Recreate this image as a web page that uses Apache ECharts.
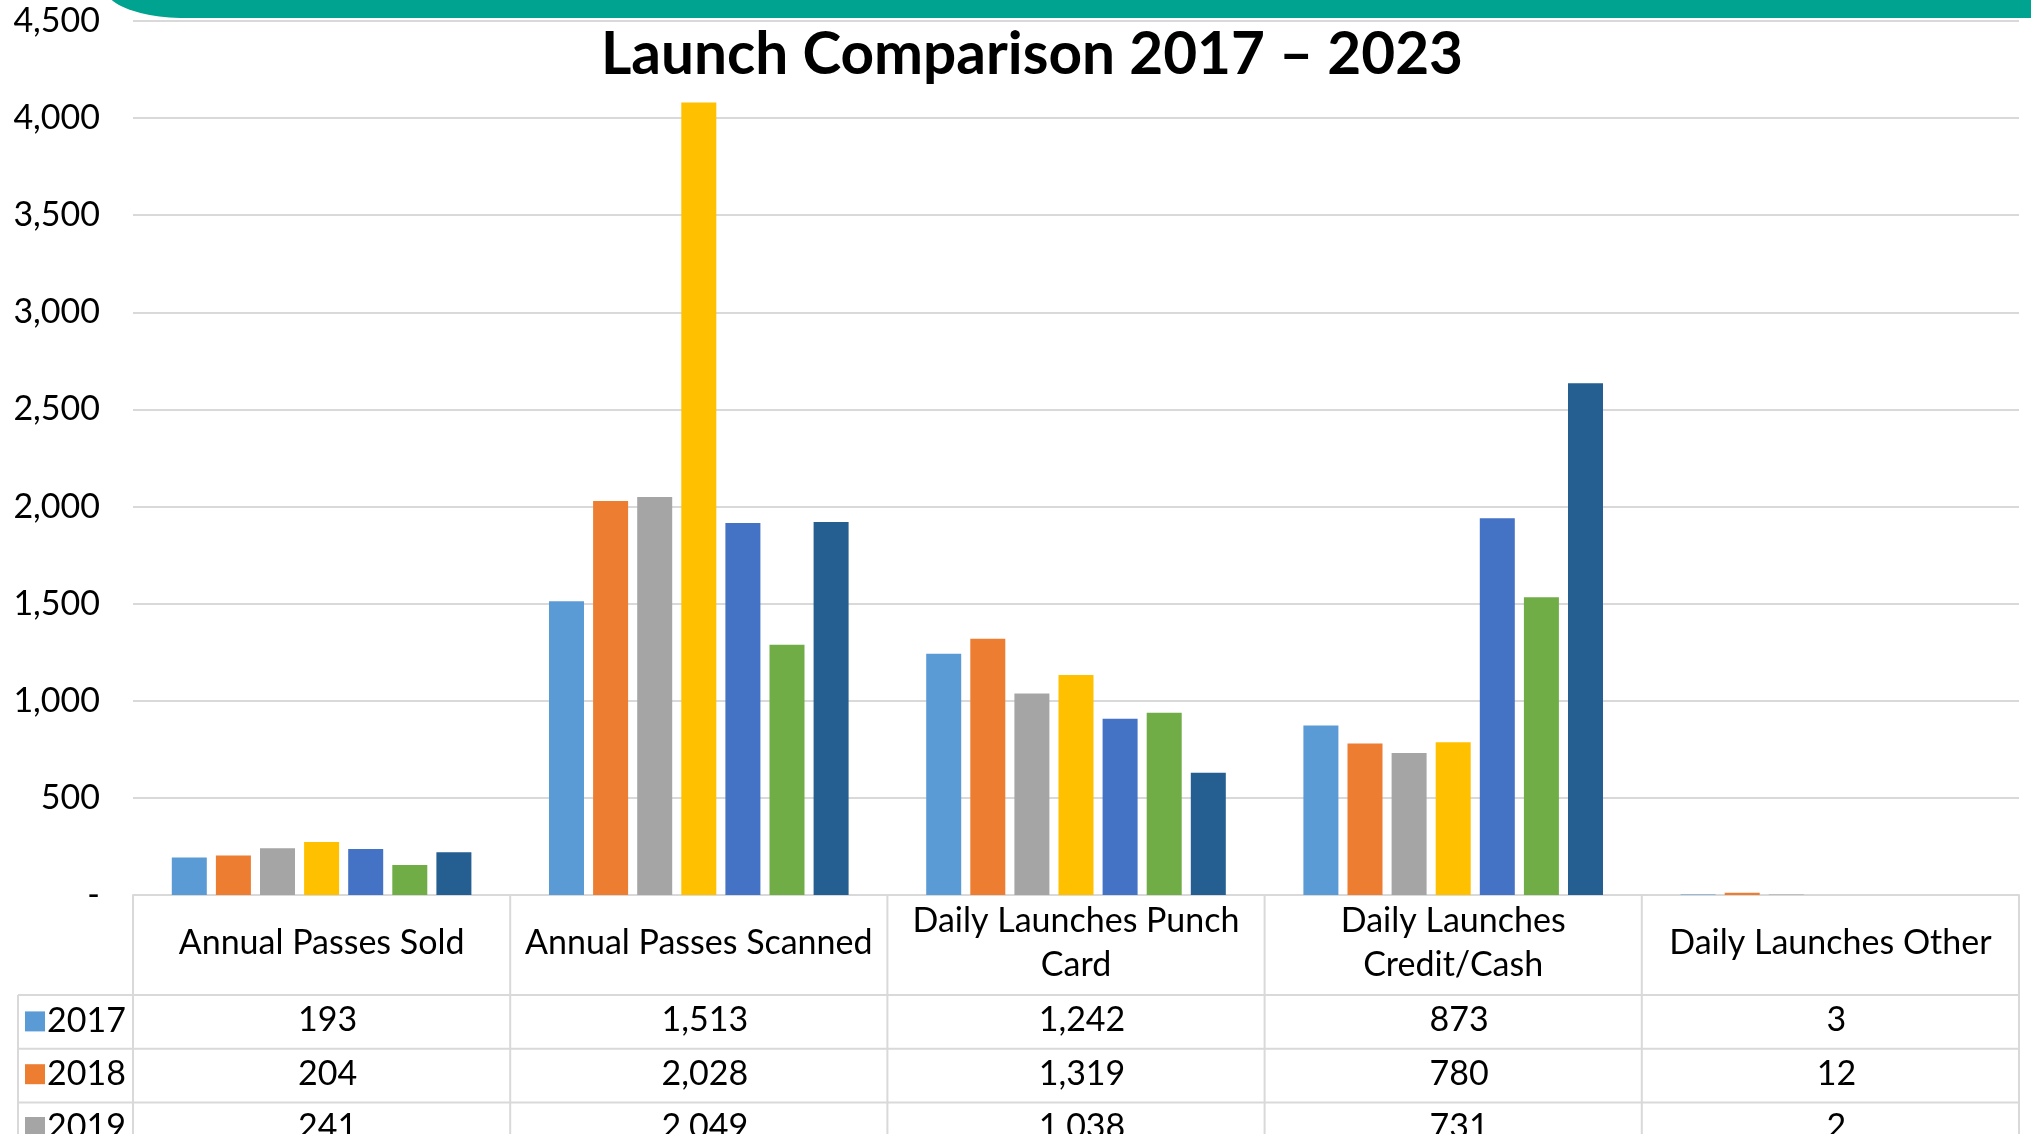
<!DOCTYPE html>
<html>
<head>
<meta charset="utf-8">
<script src="https://cdn.jsdelivr.net/npm/echarts@6/dist/echarts.min.js"></script>
<style>
  html, body { margin: 0; padding: 0; background: #fff; overflow: hidden; }
  #chart { width: 2031px; height: 1134px; }
</style>
</head>
<body>
<div id="chart"></div>
<script>
// ---- data ----
const categories = [
  'Annual Passes Sold',
  'Annual Passes Scanned',
  'Daily Launches Punch\nCard',
  'Daily Launches\nCredit/Cash',
  'Daily Launches Other'
];
const years = ['2017', '2018', '2019', '2020', '2021', '2022', '2023'];
const v2017 = [193, 1513, 1242, 873, 3];
const v2018 = [204, 2028, 1319, 780, 12];
const v2019 = [241, 2049, 1038, 731, 2];
const v2020 = [273, 4080, 1133, 787, 0];
const v2021 = [237, 1915, 907, 1940, 0];
const v2022 = [155, 1288, 938, 1533, 0];
const v2023 = [220, 1920, 630, 2635, 0];
const yearValues = [v2017, v2018, v2019, v2020, v2021, v2022, v2023];
const yMin = 0, yMax = 4500, yStep = 500;

// ---- styling / layout ----
const colors = ['#5B9BD5', '#ED7D31', '#A5A5A5', '#FFC000', '#4472C4', '#70AD47', '#255E91'];
const FONT = 'Lato';
const TEXT = '#000000';
const RULE = '#D9D9D9';
const W = 2031, H = 1134;
const plotLeft = 133, plotRight = 2019, plotTop = 21, axisY = 895;
const headerH = 100, rowH = 53.8, tableLeft = 18;
const legendTextH = 35;

const fmt = v => (v === 0 ? '-' : v.toLocaleString('en-US'));

// data-table rows: one extra category axis per year, labels are that year's values
const rowAxes = yearValues.map((vals, i) => ({
  type: 'category',
  gridIndex: 0,
  position: 'bottom',
  offset: headerH + i * rowH,
  data: vals.map(fmt),
  axisLine: { show: false },
  axisTick: { show: false },
  axisLabel: {
    interval: 0,
    margin: rowH / 2 - 2,
    verticalAlign: 'middle',
    padding: [0, 0, 0, 12],
    fontFamily: FONT,
    fontSize: 34,
    color: TEXT
  }
}));

// table rules
const tableBottom = axisY + headerH + years.length * rowH;
const slot = (plotRight - plotLeft) / categories.length;
const rules = [];
const line = (x1, y1, x2, y2) => ({
  type: 'line', silent: true, z: 10,
  shape: { x1, y1, x2, y2 },
  style: { stroke: RULE, lineWidth: 2 }
});
for (let r = 0; r <= years.length; r++) {
  const y = axisY + headerH + r * rowH;
  rules.push(line(tableLeft, y, plotRight, y));
}
for (let c = 0; c <= categories.length; c++) {
  const x = plotLeft + c * slot;
  rules.push(line(x, axisY, x, tableBottom));
}
rules.push(line(tableLeft, axisY + headerH, tableLeft, tableBottom));

// teal banner along the top edge with a rounded lower-left end
const banner = [];
const cx = 185, cy = -12, rx = 80, ry = 30, bandBottom = 18;
banner.push([W, -2], [W, bandBottom], [cx, bandBottom]);
for (let k = 0; k <= 24; k++) {
  const t = (Math.PI / 2) * (k / 24);
  const x = cx - rx * Math.sin(t);
  const y = cy + ry * Math.cos(t);
  if (y >= -2) banner.push([x, y]);
}
banner.push([cx - rx * Math.sqrt(1 - Math.pow((-2 - cy) / ry, 2)), -2]);

const chart = echarts.init(document.getElementById('chart'), null, { renderer: 'canvas' });
chart.setOption({
  animation: false,
  backgroundColor: '#ffffff',
  textStyle: { fontFamily: FONT },
  title: {
    text: 'Launch Comparison 2017 \u2013 2023',
    left: 1032,
    top: 26,
    textAlign: 'center',
    padding: 0,
    textStyle: { fontFamily: FONT, fontSize: 58.5, fontWeight: 'bold', color: TEXT }
  },
  legend: {
    orient: 'vertical',
    left: 25,
    top: axisY + headerH + (rowH - legendTextH) / 2,
    height: 800,
    padding: 0,
    itemWidth: 20,
    itemHeight: 20,
    itemGap: rowH - legendTextH,
    icon: 'rect',
    selectedMode: false,
    data: years,
    textStyle: { fontFamily: FONT, fontSize: 34, color: TEXT, padding: [0, 0, 0, -3] }
  },
  grid: {
    left: plotLeft,
    right: W - plotRight,
    top: plotTop,
    bottom: H - axisY,
    containLabel: false,
    outerBoundsMode: 'none'
  },
  xAxis: [
    {
      type: 'category',
      data: categories,
      axisLine: { show: true, lineStyle: { color: RULE, width: 2 } },
      axisTick: { show: false },
      axisLabel: {
        interval: 0,
        margin: headerH / 2 - 2,
        verticalAlign: 'middle',
        lineHeight: 44,
        fontFamily: FONT,
        fontSize: 34,
        color: TEXT
      }
    },
    ...rowAxes
  ],
  yAxis: {
    type: 'value',
    min: yMin,
    max: yMax,
    interval: yStep,
    axisLine: { show: false },
    axisTick: { show: false },
    splitLine: { lineStyle: { color: RULE, width: 2 } },
    axisLabel: {
      margin: 33,
      fontFamily: FONT,
      fontSize: 34,
      color: TEXT,
      formatter: v => fmt(v)
    }
  },
  series: years.map((yr, i) => ({
    name: yr,
    type: 'bar',
    data: yearValues[i],
    barWidth: 35,
    barGap: '26%',
    itemStyle: { color: colors[i] }
  })),
  graphic: [
    { type: 'polygon', silent: true, z: 20, shape: { points: banner }, style: { fill: '#00A38F' } },
    ...rules
  ]
});
</script>
</body>
</html>
